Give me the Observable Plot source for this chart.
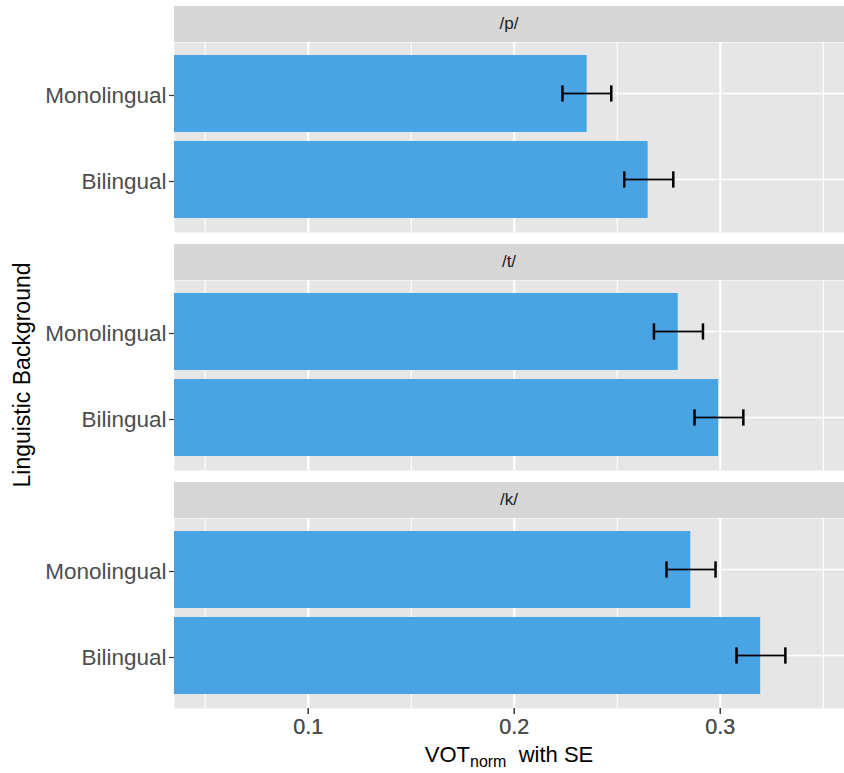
<!DOCTYPE html>
<html>
<head>
<meta charset="utf-8">
<script src="https://cdn.jsdelivr.net/npm/d3@7"></script>
<script src="https://cdn.jsdelivr.net/npm/@observablehq/plot@0.6"></script>
<style>
  html, body { margin: 0; padding: 0; background: #ffffff; }
  body { width: 844px; height: 773px; overflow: hidden; font-family: "Liberation Sans", Arial, Helvetica, sans-serif; }
  #wrap { position: relative; width: 844px; padding-top: 6px; }
  .strip { margin-left: 174px; width: 670px; height: 36px; background: #d6d6d6; color: #1a1a1a;
           font-size: 17px; line-height: 36px; text-align: center; }
  .gap { height: 12px; }
  .plot svg { display: block; }
  #ylab { position: absolute; left: 22px; top: 375px; transform: translate(-50%, -50%) rotate(-90deg);
          white-space: nowrap; font-size: 23px; color: #000; }
  #xlab { margin-left: 174px; width: 670px; text-align: center; font-size: 22px; color: #000; line-height: 28px; padding-top: 3px; }
  #xlab sub { font-size: 16px; vertical-align: -5px; line-height: 0; }
</style>
</head>
<body>
<div id="wrap"></div>
<script>
// ---- data ----
const phonemes = ["/p/", "/t/", "/k/"];
const backgrounds = ["Monolingual", "Bilingual"];
const phoneme = ["/p/", "/p/", "/t/", "/t/", "/k/", "/k/"];
const background = ["Monolingual", "Bilingual", "Monolingual", "Bilingual", "Monolingual", "Bilingual"];
const vot = [0.2354, 0.2650, 0.2796, 0.2992, 0.2857, 0.3196];
const seLow = [0.2234, 0.2534, 0.2678, 0.2875, 0.2739, 0.3079];
const seHigh = [0.2471, 0.2772, 0.2916, 0.3112, 0.2977, 0.3316];
const xMajor = [0.1, 0.2, 0.3];
const xMinor = [0.05, 0.15, 0.25, 0.35];
const xDomain = [0.0351, 0.3603];

const rows = phoneme.map((p, i) => ({phoneme: p, background: background[i], vot: vot[i], lo: seLow[i], hi: seHigh[i]}));

const wrap = document.getElementById("wrap");
const panelH = 190;
const bandW = panelH * 0.9 / 2.2;
const capInset = (bandW - 17) / 2;

phonemes.forEach((ph, k) => {
  const last = k === phonemes.length - 1;
  const data = rows.filter(d => d.phoneme === ph);
  const strip = document.createElement("div");
  strip.className = "strip";
  strip.textContent = ph;
  wrap.appendChild(strip);

  const chart = Plot.plot({
    width: 844,
    height: panelH + (last ? 30 : 0),
    marginLeft: 174,
    marginRight: 0,
    marginTop: 0,
    marginBottom: last ? 30 : 0,
    style: {background: "transparent", fontFamily: "'Liberation Sans', Arial, Helvetica, sans-serif", fontSize: "21.5px", color: "#4d4d4d", overflow: "visible"},
    x: {domain: xDomain, ticks: xMajor, tickFormat: d3.format(".1f"), axis: last ? "bottom" : null, tickSize: 6, tickPadding: 4, label: null},
    y: {domain: backgrounds, paddingInner: 0.1, paddingOuter: 0.15, tickSize: 5, tickPadding: 3, label: null},
    marks: [
      Plot.frame({fill: "#e6e6e6", stroke: null}),
      Plot.ruleX(xMinor, {stroke: "white", strokeWidth: 1.1}),
      Plot.ruleX(xMajor, {stroke: "white", strokeWidth: 2.3}),
      Plot.barX(backgrounds, {x1: xDomain[0], x2: xDomain[1], y: d => d, fill: "white", insetTop: (bandW - 2.3) / 2, insetBottom: (bandW - 2.3) / 2}),
      Plot.barX(data, {x: "vot", y: "background", fill: "#48a4e3", clip: true}),
      Plot.barX(data, {x1: "lo", x2: "hi", y: "background", fill: "black", insetTop: (bandW - 2.5) / 2, insetBottom: (bandW - 2.5) / 2}),
      Plot.tickX(data, {x: "lo", y: "background", stroke: "black", strokeWidth: 2.5, strokeOpacity: 1, insetTop: capInset, insetBottom: capInset}),
      Plot.tickX(data, {x: "hi", y: "background", stroke: "black", strokeWidth: 2.5, strokeOpacity: 1, insetTop: capInset, insetBottom: capInset}),
      Plot.axisY({tickSize: 5, tickPadding: 3, fontSize: 22.5, dy: 1.5, color: "#4d4d4d", stroke: "#333333", strokeWidth: 1.2, label: null}),
      ...(last ? [Plot.axisX({ticks: xMajor, tickFormat: d3.format(".1f"), tickSize: 6, tickPadding: 4, color: "#4d4d4d", stroke: "#333333", strokeWidth: 1.2, label: null})] : [])
    ]
  });
  const holder = document.createElement("div");
  holder.className = "plot";
  holder.appendChild(chart);
  wrap.appendChild(holder);
  if (!last) {
    const g = document.createElement("div");
    g.className = "gap";
    wrap.appendChild(g);
  }
});

const xlab = document.createElement("div");
xlab.id = "xlab";
xlab.innerHTML = "VOT<sub>norm</sub>&nbsp; with SE";
wrap.appendChild(xlab);

const ylab = document.createElement("div");
ylab.id = "ylab";
ylab.textContent = "Linguistic Background";
wrap.appendChild(ylab);
</script>
</body>
</html>
